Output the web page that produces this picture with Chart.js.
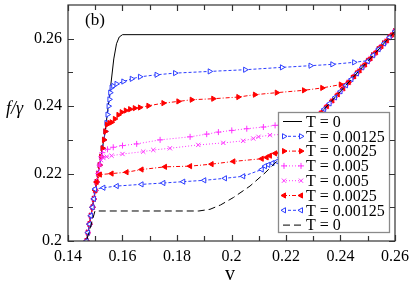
<!DOCTYPE html>
<html>
<head>
<meta charset="utf-8">
<script src="https://cdn.jsdelivr.net/npm/chart.js@4.4.0/dist/chart.umd.min.js"></script>
<style>
  html, body { margin: 0; padding: 0; background: #fff; }
  canvas { display: block; }
</style>
</head>
<body>
<canvas id="chart" width="409" height="282"></canvas>
<script>
// ---- values, points are [v, f/gamma] ----
const legendLabels = ["T = 0", "T = 0.00125", "T = 0.0025", "T = 0.005", "T = 0.005", "T = 0.0025", "T = 0.00125", "T = 0"];
const xTicks = [0.14, 0.16, 0.18, 0.2, 0.22, 0.24, 0.26];
const xMinorTicks = [0.15, 0.17, 0.19, 0.21, 0.23, 0.25];
const yTicks = [0.2, 0.22, 0.24, 0.26];
const yMinorTicks = [0.21, 0.23, 0.25];

// T = 0, increasing v (solid)
const zeroUp = [[0.1468, 0.2000], [0.1500, 0.2150], [0.1536, 0.2323], [0.1556, 0.2455], [0.1568, 0.2540],
  [0.1578, 0.2585], [0.1588, 0.2605], [0.1600, 0.2612], [0.2600, 0.2612]];

// T = 0.00125, increasing v
const blueUp = [[0.1468, 0.2000], [0.1473, 0.2025], [0.1479, 0.2050], [0.1484, 0.2075], [0.1490, 0.2100],
  [0.1495, 0.2125], [0.1500, 0.2150], [0.1505, 0.2175], [0.1511, 0.2200], [0.1516, 0.2225], [0.1522, 0.2250],
  [0.1527, 0.2275], [0.1532, 0.2300], [0.1537, 0.2325], [0.1541, 0.2350], [0.1545, 0.2375], [0.1549, 0.2400],
  [0.1552, 0.2420], [0.1555, 0.2440], [0.1560, 0.2455], [0.1566, 0.2460], [0.1578, 0.2466], [0.1603, 0.2473],
  [0.1634, 0.2481], [0.1664, 0.2487], [0.1725, 0.2493], [0.1793, 0.2498], [0.1920, 0.2503], [0.2050, 0.2508],
  [0.2185, 0.2515], [0.2290, 0.2520], [0.2370, 0.2524], [0.2450, 0.2530], [0.2502, 0.2535], [0.2520, 0.2551],
  [0.2540, 0.2569], [0.2560, 0.2586], [0.2580, 0.2604], [0.2600, 0.2622]];

// T = 0.0025, increasing v
const redUp = [[0.1468, 0.2000], [0.1473, 0.2025], [0.1479, 0.2050], [0.1484, 0.2075], [0.1490, 0.2100],
  [0.1495, 0.2125], [0.1500, 0.2150], [0.1505, 0.2175], [0.1511, 0.2200], [0.1516, 0.2225], [0.1522, 0.2250],
  [0.1527, 0.2275], [0.1532, 0.2300], [0.1537, 0.2325], [0.1543, 0.2345], [0.1552, 0.2350], [0.1560, 0.2352],
  [0.1572, 0.2362], [0.1585, 0.2374], [0.1597, 0.2382], [0.1612, 0.2387], [0.1628, 0.2391], [0.1645, 0.2394],
  [0.1664, 0.2396], [0.1695, 0.2401], [0.1750, 0.2409], [0.1805, 0.2414], [0.1854, 0.2419], [0.1933, 0.2422],
  [0.2025, 0.2427], [0.2086, 0.2434], [0.2166, 0.2440], [0.2266, 0.2447], [0.2333, 0.2454], [0.2401, 0.2464],
  [0.2429, 0.2470], [0.2445, 0.2484], [0.2460, 0.2497], [0.2480, 0.2515], [0.2500, 0.2533], [0.2520, 0.2551],
  [0.2540, 0.2569], [0.2560, 0.2586], [0.2580, 0.2604], [0.2600, 0.2622]];

// T = 0.005, increasing v (+)
const magUp = [[0.1468, 0.2000], [0.1473, 0.2025], [0.1479, 0.2050], [0.1484, 0.2075], [0.1490, 0.2100],
  [0.1495, 0.2125], [0.1500, 0.2150], [0.1505, 0.2175], [0.1511, 0.2200], [0.1516, 0.2225], [0.1522, 0.2250],
  [0.1526, 0.2262], [0.1545, 0.2272], [0.1566, 0.2278], [0.1600, 0.2283], [0.1652, 0.2288], [0.1738, 0.2300],
  [0.1848, 0.2309], [0.1909, 0.2317], [0.1952, 0.2323], [0.2001, 0.2328], [0.2056, 0.2333], [0.2117, 0.2338],
  [0.2160, 0.2343], [0.2230, 0.2348], [0.2300, 0.2355], [0.2320, 0.2373], [0.2340, 0.2391], [0.2360, 0.2408],
  [0.2380, 0.2426], [0.2400, 0.2444], [0.2420, 0.2462], [0.2440, 0.2480], [0.2460, 0.2497], [0.2480, 0.2515],
  [0.2500, 0.2533], [0.2520, 0.2551], [0.2540, 0.2569], [0.2560, 0.2586], [0.2580, 0.2604], [0.2600, 0.2622]];

// T = 0.005, decreasing v (x)
const magDown = [[0.2600, 0.2622], [0.2590, 0.2613], [0.2570, 0.2595], [0.2550, 0.2578], [0.2530, 0.2560],
  [0.2510, 0.2542], [0.2490, 0.2524], [0.2470, 0.2506], [0.2450, 0.2489], [0.2430, 0.2471], [0.2410, 0.2453],
  [0.2390, 0.2435], [0.2370, 0.2417], [0.2350, 0.2400], [0.2330, 0.2382], [0.2310, 0.2364], [0.2290, 0.2346],
  [0.2270, 0.2328], [0.2261, 0.2320], [0.2200, 0.2317], [0.2141, 0.2314], [0.2099, 0.2309], [0.2080, 0.2304],
  [0.2043, 0.2297], [0.1970, 0.2291], [0.1878, 0.2285], [0.1774, 0.2275], [0.1713, 0.2270], [0.1676, 0.2265],
  [0.1600, 0.2258], [0.1560, 0.2253], [0.1542, 0.2250], [0.1530, 0.2246], [0.1521, 0.2240], [0.1516, 0.2225],
  [0.1511, 0.2200], [0.1505, 0.2175], [0.1500, 0.2150], [0.1495, 0.2125], [0.1490, 0.2100], [0.1484, 0.2075],
  [0.1479, 0.2050], [0.1473, 0.2025], [0.1468, 0.2000]];

// T = 0.0025, decreasing v
const redDown = [[0.2600, 0.2622], [0.2590, 0.2613], [0.2570, 0.2595], [0.2550, 0.2578], [0.2530, 0.2560],
  [0.2510, 0.2542], [0.2490, 0.2524], [0.2470, 0.2506], [0.2450, 0.2489], [0.2430, 0.2471], [0.2410, 0.2453],
  [0.2390, 0.2435], [0.2370, 0.2417], [0.2350, 0.2400], [0.2330, 0.2382], [0.2310, 0.2364], [0.2290, 0.2346],
  [0.2270, 0.2328], [0.2250, 0.2311], [0.2230, 0.2293], [0.2210, 0.2275], [0.2196, 0.2263], [0.2175, 0.2261],
  [0.2160, 0.2260], [0.2141, 0.2253], [0.2129, 0.2248], [0.2111, 0.2244], [0.2007, 0.2236], [0.1927, 0.2228],
  [0.1848, 0.2222], [0.1756, 0.2220], [0.1670, 0.2212], [0.1615, 0.2204], [0.1560, 0.2200], [0.1517, 0.2197],
  [0.1505, 0.2175], [0.1500, 0.2150], [0.1495, 0.2125], [0.1490, 0.2100], [0.1484, 0.2075], [0.1479, 0.2050],
  [0.1473, 0.2025], [0.1468, 0.2000]];

// T = 0.00125, decreasing v
const blueDown = [[0.2600, 0.2622], [0.2580, 0.2604], [0.2560, 0.2586], [0.2540, 0.2569], [0.2520, 0.2551],
  [0.2500, 0.2533], [0.2480, 0.2515], [0.2460, 0.2497], [0.2440, 0.2480], [0.2420, 0.2462], [0.2400, 0.2444],
  [0.2380, 0.2426], [0.2360, 0.2408], [0.2340, 0.2391], [0.2320, 0.2373], [0.2300, 0.2355], [0.2280, 0.2337],
  [0.2260, 0.2319], [0.2240, 0.2302], [0.2220, 0.2284], [0.2200, 0.2266], [0.2180, 0.2248], [0.2166, 0.2236],
  [0.2150, 0.2231], [0.2135, 0.2226], [0.2123, 0.2222], [0.2111, 0.2212], [0.2043, 0.2192], [0.1976, 0.2186],
  [0.1900, 0.2180], [0.1823, 0.2176], [0.1750, 0.2172], [0.1670, 0.2168], [0.1579, 0.2163], [0.1530, 0.2158],
  [0.1499, 0.2154], [0.1495, 0.2125], [0.1490, 0.2100], [0.1484, 0.2075], [0.1479, 0.2050], [0.1473, 0.2025],
  [0.1468, 0.2000]];

// T = 0, decreasing v (dashed)
const zeroDown = [[0.2600, 0.2622], [0.2166, 0.2236], [0.2123, 0.2202], [0.2068, 0.2163], [0.2007, 0.2129],
  [0.1960, 0.2107], [0.1921, 0.2094], [0.1880, 0.2089], [0.1499, 0.2089], [0.1468, 0.2000]];

const seriesData = [zeroUp, blueUp, redUp, magUp, magDown, redDown, blueDown, zeroDown];

const BLUE = "#2b3cff", RED = "#ff0000", MAG = "#ff33ff";
const styles = [
  { color: "#000", dash: [], point: false },
  { color: BLUE, dash: [3, 2], point: "triangle", rot: 90, fill: "#fff" },
  { color: RED, dash: [4, 2, 1, 2], point: "triangle", rot: 90, fill: RED },
  { color: MAG, dash: [1, 2], point: "cross", rot: 0, fill: MAG },
  { color: MAG, dash: [1, 2], point: "crossRot", rot: 0, fill: MAG },
  { color: RED, dash: [4, 2, 1, 2], point: "triangle", rot: -90, fill: RED },
  { color: BLUE, dash: [3, 2], point: "triangle", rot: -90, fill: "#fff" },
  { color: "#000", dash: [7, 4], point: false }
];

const datasets = seriesData.map((pts, i) => {
  const s = styles[i];
  return {
    label: legendLabels[i],
    data: pts.map(p => ({ x: p[0], y: p[1] })),
    showLine: true,
    borderColor: s.color,
    borderWidth: 1,
    borderDash: s.dash,
    pointStyle: s.point || "circle",
    pointRadius: s.point ? 3 : 0,
    pointRotation: s.rot || 0,
    pointBackgroundColor: s.fill || s.color,
    pointBorderColor: s.color,
    pointBorderWidth: 1,
    order: seriesData.length - i
  };
});

// legend box drawn inside the plot, like the original
const insideLegend = {
  id: "insideLegend",
  afterDatasetsDraw(chart) {
    const ctx = chart.ctx;
    const box = { x: 278, y: 112, w: 111, h: 120 };
    ctx.save();
    ctx.fillStyle = "#fff";
    ctx.fillRect(box.x, box.y, box.w, box.h);
    ctx.strokeStyle = "#8a8a8a";
    ctx.lineWidth = 1.3;
    ctx.strokeRect(box.x + 0.5, box.y + 0.5, box.w, box.h);
    ctx.font = "16px 'Liberation Serif', 'DejaVu Serif', serif";
    ctx.textBaseline = "middle";
    legendLabels.forEach((txt, i) => {
      const s = styles[i];
      const y = 121.5 + i * 14.8;
      ctx.strokeStyle = s.color;
      ctx.lineWidth = 1;
      ctx.setLineDash(s.dash);
      ctx.beginPath();
      ctx.moveTo(283, y);
      ctx.lineTo(302, y);
      ctx.stroke();
      ctx.setLineDash([]);
      if (s.point) {
        ctx.fillStyle = s.fill;
        ctx.strokeStyle = s.color;
        [284, 301].forEach(px => {
          Chart.helpers.drawPoint(ctx, { pointStyle: s.point, rotation: s.rot, radius: 3, borderWidth: 1 }, px, y);
        });
      }
      ctx.fillStyle = "#000";
      ctx.fillText(txt, 306, y + 1);
    });
    ctx.restore();
  }
};

// frame, inward ticks on all four sides, and the loose labels
const frame = {
  id: "frame",
  afterDraw(chart) {
    const { ctx, chartArea: a, scales: { x, y } } = chart;
    ctx.save();
    ctx.strokeStyle = "#333";
    ctx.lineWidth = 1.2;
    ctx.strokeRect(a.left, a.top, a.right - a.left, a.bottom - a.top);
    ctx.beginPath();
    const xt = (v, len) => {
      const px = Math.round(x.getPixelForValue(v)) + 0.5;
      ctx.moveTo(px, a.bottom); ctx.lineTo(px, a.bottom - len);
      ctx.moveTo(px, a.top); ctx.lineTo(px, a.top + len);
    };
    const yt = (v, len) => {
      const py = Math.round(y.getPixelForValue(v)) + 0.5;
      ctx.moveTo(a.left, py); ctx.lineTo(a.left + len, py);
      ctx.moveTo(a.right, py); ctx.lineTo(a.right - len, py);
    };
    xTicks.forEach(v => xt(v, 6));
    xMinorTicks.forEach(v => xt(v, 5));
    yTicks.forEach(v => yt(v, 6));
    yMinorTicks.forEach(v => yt(v, 5));
    ctx.stroke();

    ctx.fillStyle = "#000";
    ctx.textBaseline = "alphabetic";
    ctx.font = "17px 'Liberation Serif', 'DejaVu Serif', serif";
    ctx.fillText("(b)", 85, 25);
    ctx.font = "italic 18px 'Liberation Serif', 'DejaVu Serif', serif";
    ctx.fillText("f/\u03b3", 6, 114);
    ctx.font = "20px 'Liberation Serif', 'DejaVu Serif', serif";
    ctx.textAlign = "center";
    ctx.fillText("v", 230, 280);
    ctx.restore();
  }
};

Chart.defaults.font.family = "'Liberation Serif', 'DejaVu Serif', serif";
Chart.defaults.font.size = 16;
Chart.defaults.color = "#000";

new Chart(document.getElementById("chart"), {
  type: "scatter",
  data: { datasets },
  options: {
    responsive: false,
    animation: false,
    devicePixelRatio: 1,
    layout: { padding: { top: -2, right: 14, left: 0, bottom: 0 } },
    plugins: { legend: { display: false }, tooltip: { enabled: false } },
    scales: {
      x: {
        type: "linear",
        min: 0.14,
        max: 0.26,
        grid: { display: false, drawTicks: false },
        border: { display: false },
        afterBuildTicks: s => { s.ticks = xTicks.map(v => ({ value: v })); },
        afterFit: s => { s.height = 41; s.paddingLeft = 0; s.paddingRight = 0; },
        ticks: { padding: 6, maxRotation: 0, autoSkip: false, callback: v => String(v) }
      },
      y: {
        type: "linear",
        min: 0.2,
        max: 0.27,
        grid: { display: false, drawTicks: false },
        border: { display: false },
        afterBuildTicks: s => { s.ticks = yTicks.map(v => ({ value: v })); },
        afterFit: s => { s.width = 68; s.paddingTop = 0; s.paddingBottom = 0; },
        ticks: { padding: 6, autoSkip: false, callback: v => String(v) }
      }
    }
  },
  plugins: [insideLegend, frame]
});
</script>
</body>
</html>
